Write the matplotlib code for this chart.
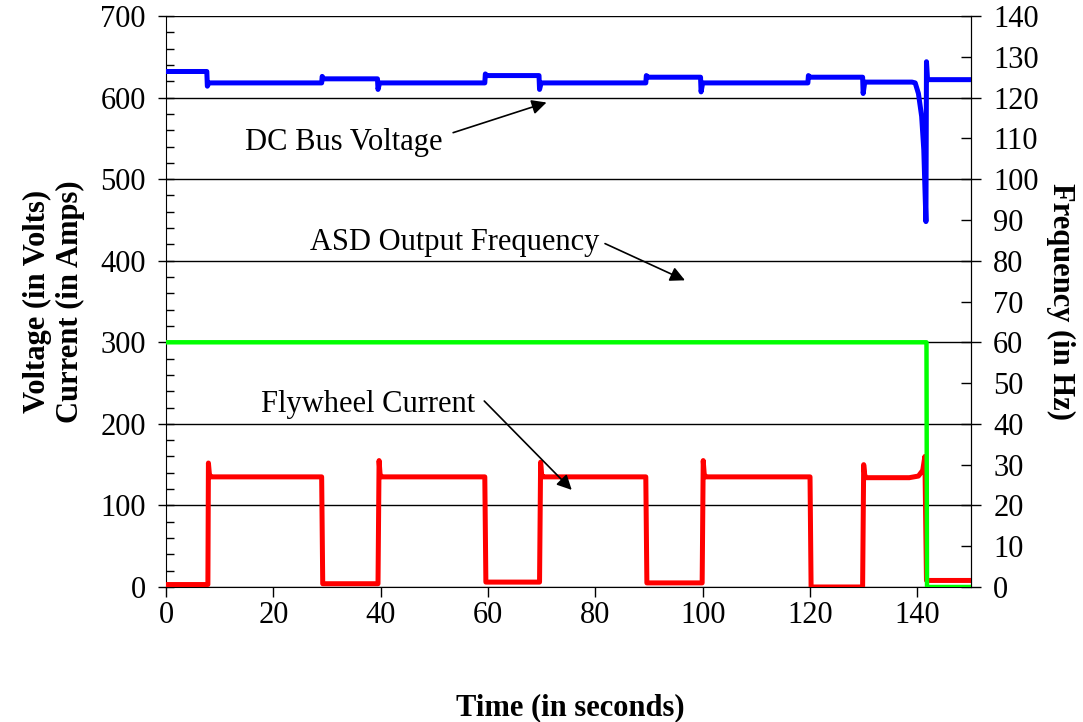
import numpy as np
import matplotlib.pyplot as plt
from matplotlib.ticker import MultipleLocator, FormatStrFormatter

# DC bus voltage (V), breakpoints
bus_t = [0, 7.6, 7.7, 8.0, 29.0, 29.1, 29.4, 39.4, 39.5, 39.8, 59.4, 59.5, 59.8,
         69.5, 69.6, 69.9, 89.4, 89.5, 89.8, 99.6, 99.7, 100.0, 119.6, 119.7, 120.0,
         129.8, 129.9, 130.2, 139.0, 139.6, 140.2, 140.8, 141.2, 141.6, 141.7, 141.9, 150]
bus_v = [632, 632, 614, 618, 618, 626, 623, 623, 610, 618, 618, 629, 627,
         627, 610, 618, 618, 627, 625, 625, 607, 618, 618, 627, 625,
         625, 605, 619, 619, 618, 605, 577, 536, 448, 644, 622, 622]

# Flywheel current (A)
fw_t = [0, 7.8, 7.9, 8.1, 8.4, 29.0, 29.2, 39.5, 39.7, 39.9, 40.2, 59.4, 59.6,
        69.6, 69.8, 70.0, 70.3, 89.4, 89.6, 99.9, 100.1, 100.3, 100.6, 120.0, 120.2,
        129.8, 130.0, 130.2, 130.5, 138.5, 140.2, 141.0, 141.4, 141.7, 142.3, 150]
fw_v = [3, 3, 152, 137, 135, 135, 4, 4, 155, 137, 135, 135, 6,
        6, 153, 137, 135, 135, 5, 5, 155, 137, 135, 135, 0,
        0, 150, 137, 134, 134, 136, 143, 160, 8, 8, 8]

# ASD output frequency (Hz)
asd_t = [0, 141.7, 141.8, 150]
asd_f = [60, 60, 0, 0]

# annotations: label, text position, arrow tail, arrow tip (data coords of left axis)
notes = [
    ('DC Bus Voltage', (33.2, 545), (53.5, 557), (70.9, 594)),
    ('ASD Output Frequency', (53.8, 422), (81.8, 421), (96.7, 376)),
    ('Flywheel Current', (37.6, 224), (59.3, 228), (75.6, 119)),
]

plt.rcParams['font.family'] = ['Liberation Serif', 'DejaVu Serif']
fs = 22

fig = plt.figure(figsize=(10.83, 7.22), dpi=100)
ax = fig.add_axes([0.1533, 0.187, 0.8966 - 0.1533, 0.9778 - 0.187])
ax2 = ax.twinx()

ax.plot(bus_t, bus_v, color='#0000ff', lw=3.6, solid_joinstyle='round', zorder=3)
ax.plot(fw_t, fw_v, color='#ff0000', lw=3.6, solid_joinstyle='round', zorder=3)
ax2.plot(asd_t, asd_f, color='#00ff00', lw=3.2, solid_joinstyle='round', zorder=3)

ax.set_xlim(0, 150)
ax.set_ylim(0, 700)
ax2.set_ylim(0, 140)

ax.spines['top'].set_visible(False)
ax2.spines['top'].set_visible(False)
ax2.spines['left'].set_visible(False)
ax2.spines['bottom'].set_visible(False)

ax.yaxis.grid(True, color='black', lw=1.0)
ax.set_axisbelow(True)

ax.xaxis.set_major_locator(MultipleLocator(20))
ax.yaxis.set_major_locator(MultipleLocator(100))
ax.yaxis.set_minor_locator(MultipleLocator(20))
ax.tick_params(axis='x', direction='out', length=7, width=1, labelsize=fs, pad=3)
ax.tick_params(axis='y', which='major', direction='inout', length=11, width=1,
               labelsize=fs, pad=9)
ax.tick_params(axis='y', which='minor', direction='in', length=6, width=1)

ax2.yaxis.set_major_locator(MultipleLocator(20))
ax2.yaxis.set_minor_locator(MultipleLocator(10))
ax2.yaxis.set_minor_formatter(FormatStrFormatter('%d'))
ax2.tick_params(axis='y', which='major', direction='inout', length=14, width=1,
                labelsize=fs, pad=9)
ax2.tick_params(axis='y', which='minor', direction='in', length=7, width=1,
                labelsize=fs, pad=16)

ax.set_xlabel('Time (in seconds)', fontsize=fs, fontweight='bold')
ax.xaxis.set_label_coords(0.502, -0.186)
ax.set_ylabel('Voltage (in Volts)\nCurrent (in Amps)', fontsize=fs, fontweight='bold',
              linespacing=1.15)
ax.yaxis.set_label_coords(-0.101, 0.5)
ax2.set_ylabel('Frequency (in Hz)', fontsize=fs, fontweight='bold', rotation=270,
               va='center')
ax2.yaxis.set_label_coords(1.111, 0.5)

arrow = dict(arrowstyle='-|>', color='black', lw=1.2, mutation_scale=22,
             shrinkA=0, shrinkB=0)
for label, txt, tail, tip in notes:
    ax.text(txt[0], txt[1], label, fontsize=fs, ha='center', va='center', zorder=5)
    ax.annotate('', xy=tip, xytext=tail, arrowprops=arrow, zorder=5)

fig.savefig('out.png', dpi=100)
